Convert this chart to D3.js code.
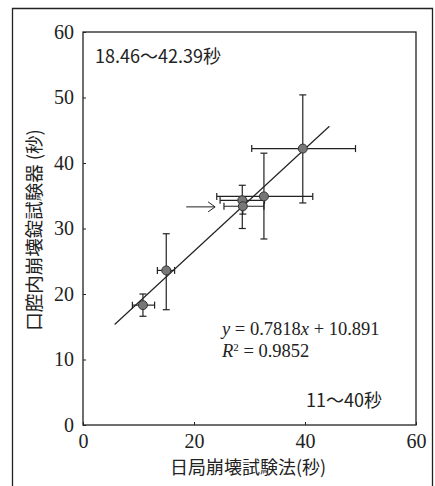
<!DOCTYPE html>
<html><head><meta charset="utf-8">
<script src="https://cdn.jsdelivr.net/npm/d3@7"></script>
<style>body{margin:0;background:#fff}svg{display:block}</style>
</head><body>
<script>
const xVals = [10.8, 15.0, 28.7, 28.8, 32.6, 39.6];
const yVals = [18.3, 23.6, 34.3, 33.4, 34.9, 42.2];
const xLow  = [8.9, 13.4, 24.7, 25.4, 24.1, 30.4];
const xHigh = [12.9, 16.5, 32.7, 32.6, 41.4, 49.1];
const yLow  = [16.6, 17.6, 30.0, 32.2, 28.4, 33.9];
const yHigh = [20.0, 29.2, 36.6, 34.6, 41.5, 50.4];
const xTicks = [0, 20, 40, 60];
const yTicks = [0, 10, 20, 30, 40, 50, 60];
const slope = 0.7818, intercept = 10.891;
const fitRange = [5.7, 44.4];
const arrowX = [18.6, 23.8], arrowY = 33.3;

const W = 435, H = 486;
const svg = d3.select("body").append("svg").attr("width", W).attr("height", H);
const x = d3.scaleLinear().domain([0, 60]).range([83, 416]);
const y = d3.scaleLinear().domain([0, 60]).range([425, 32]);

// outer frame
svg.append("path").attr("d", `M12.5,${H} V8.5 H432.5 V${H}`)
  .attr("fill", "none").attr("stroke", "#222").attr("stroke-width", 1.3);

// plot box
svg.append("rect").attr("x", x(0)).attr("y", y(60)).attr("width", x(60) - x(0)).attr("height", y(0) - y(60))
  .attr("fill", "none").attr("stroke", "#222").attr("stroke-width", 1.3);

const serif = "'Liberation Serif', 'DejaVu Serif', serif";
const sans = "'Noto Sans CJK JP', 'Noto Sans', sans-serif";

const xa = svg.append("g").attr("transform", `translate(0,${y(0)})`)
  .call(d3.axisBottom(x).tickValues(xTicks).tickSize(-3).tickPadding(9));
xa.select(".domain").remove();
xa.selectAll("text").attr("font-family", serif).attr("font-size", 20).attr("fill", "#222");
xa.selectAll("line").attr("stroke", "#222");

const ya = svg.append("g").attr("transform", `translate(${x(0)},0)`)
  .call(d3.axisLeft(y).tickValues(yTicks).tickSize(-3).tickPadding(9));
ya.select(".domain").remove();
ya.selectAll("text").attr("font-family", serif).attr("font-size", 20).attr("fill", "#222");
ya.selectAll("line").attr("stroke", "#222");

// axis titles
svg.append("text").attr("x", 248).attr("y", 474).attr("text-anchor", "middle")
  .attr("font-family", sans).attr("font-size", 18).attr("fill", "#222").text("日局崩壊試験法(秒)");
svg.append("text").attr("transform", "translate(41,230) rotate(-90)").attr("text-anchor", "middle")
  .attr("font-family", sans).attr("font-size", 18.5).attr("fill", "#222").text("口腔内崩壊錠試験器 (秒)");

// fit line
svg.append("line").attr("x1", x(fitRange[0])).attr("y1", y(slope * fitRange[0] + intercept))
  .attr("x2", x(fitRange[1])).attr("y2", y(slope * fitRange[1] + intercept))
  .attr("stroke", "#222").attr("stroke-width", 1.2);

// error bars
const g = svg.append("g").attr("stroke", "#222").attr("stroke-width", 1.2);
const cap = 3.5;
xVals.forEach((xv, i) => {
  const cx = x(xv), cy = y(yVals[i]);
  g.append("line").attr("x1", x(xLow[i])).attr("x2", x(xHigh[i])).attr("y1", cy).attr("y2", cy);
  g.append("line").attr("x1", x(xLow[i])).attr("x2", x(xLow[i])).attr("y1", cy - cap).attr("y2", cy + cap);
  g.append("line").attr("x1", x(xHigh[i])).attr("x2", x(xHigh[i])).attr("y1", cy - cap).attr("y2", cy + cap);
  g.append("line").attr("x1", cx).attr("x2", cx).attr("y1", y(yLow[i])).attr("y2", y(yHigh[i]));
  g.append("line").attr("x1", cx - cap).attr("x2", cx + cap).attr("y1", y(yLow[i])).attr("y2", y(yLow[i]));
  g.append("line").attr("x1", cx - cap).attr("x2", cx + cap).attr("y1", y(yHigh[i])).attr("y2", y(yHigh[i]));
});
svg.append("g").selectAll("circle").data(xVals).join("circle")
  .attr("cx", d => x(d)).attr("cy", (d, i) => y(yVals[i])).attr("r", 4.5)
  .attr("fill", "#777").attr("stroke", "#333").attr("stroke-width", 1);

// arrow
const ay = y(arrowY);
svg.append("line").attr("x1", x(arrowX[0])).attr("x2", x(arrowX[1])).attr("y1", ay).attr("y2", ay)
  .attr("stroke", "#222").attr("stroke-width", 1);
svg.append("path").attr("d", `M${x(arrowX[1]) - 7},${ay - 5} L${x(arrowX[1])},${ay} L${x(arrowX[1]) - 7},${ay + 5}`)
  .attr("fill", "none").attr("stroke", "#222").attr("stroke-width", 1);

// annotations
svg.append("text").attr("x", 95).attr("y", 63).attr("font-family", sans).attr("font-size", 18)
  .attr("fill", "#222").text("18.46～42.39秒");
svg.append("text").attr("x", 306).attr("y", 407).attr("font-family", sans).attr("font-size", 18)
  .attr("fill", "#222").text("11～40秒");
const eq = svg.append("text").attr("x", 222).attr("y", 335).attr("font-family", serif).attr("font-size", 18.5).attr("fill", "#222");
eq.append("tspan").attr("font-style", "italic").text("y");
eq.append("tspan").text(" = 0.7818");
eq.append("tspan").attr("font-style", "italic").text("x");
eq.append("tspan").text(" + 10.891");
const r2 = svg.append("text").attr("x", 222).attr("y", 357).attr("font-family", serif).attr("font-size", 18.5).attr("fill", "#222");
r2.append("tspan").attr("font-style", "italic").text("R");
r2.append("tspan").attr("font-size", 11).attr("dy", -6).text("2");
r2.append("tspan").attr("dy", 6).text(" = 0.9852");
</script>
</body></html>
